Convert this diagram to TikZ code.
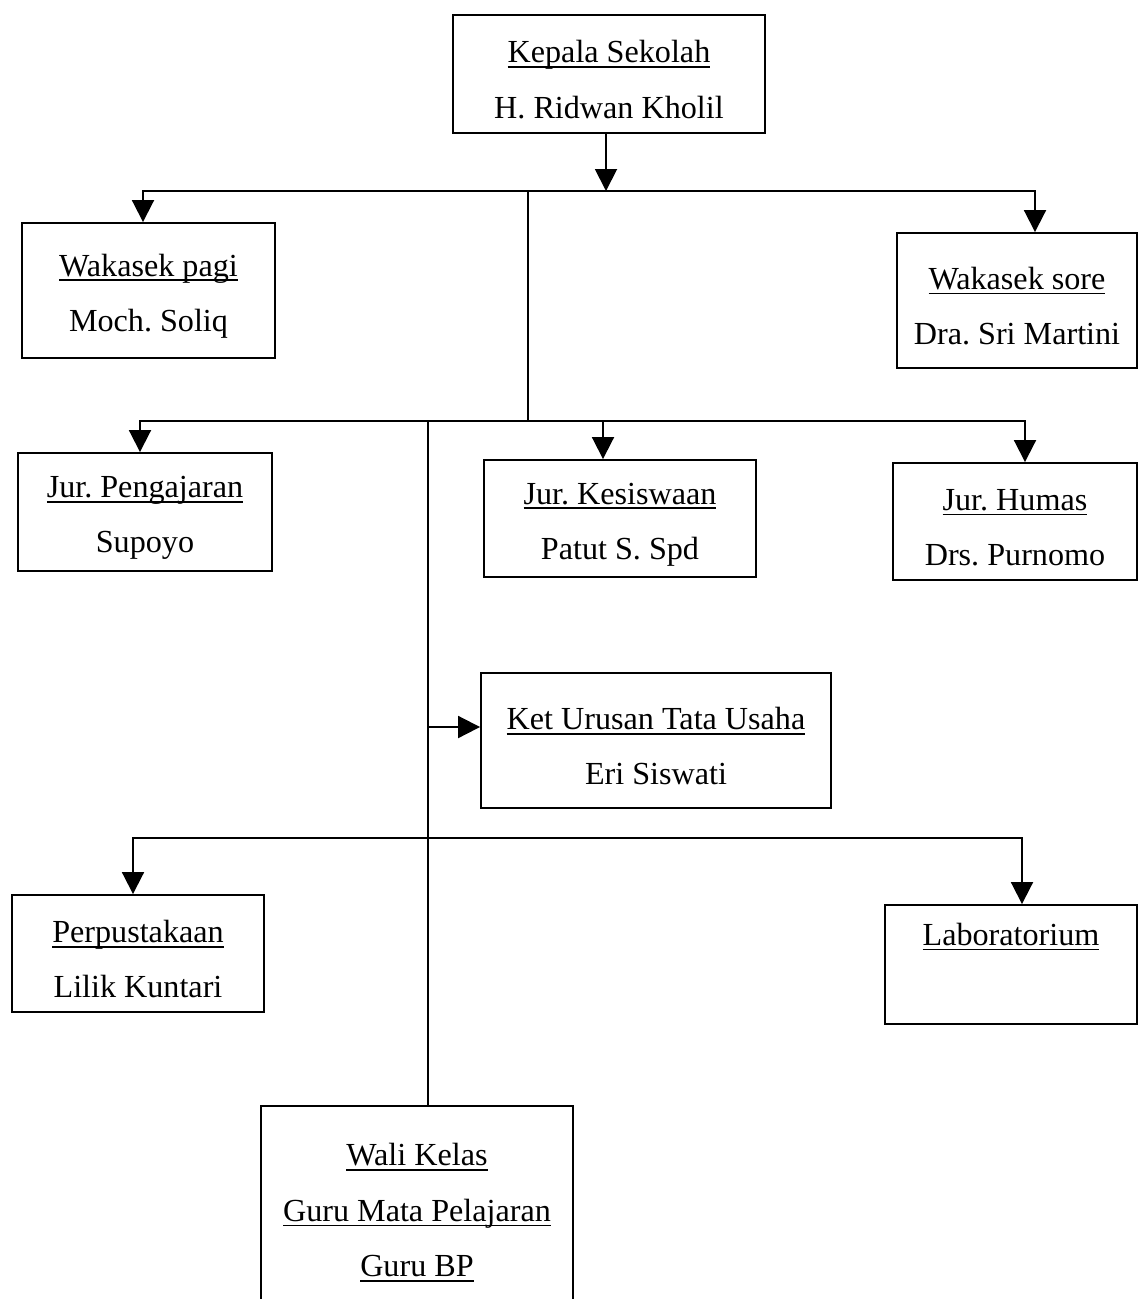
\documentclass[tikz,border=0pt]{standalone}
\usepackage{fontspec}
\setmainfont{Liberation Serif}
\usepackage{tikz}
\usepackage{xcolor}
\usetikzlibrary{arrows.meta}

\newcommand{\garisbawah}[1]{\rule{0pt}{19pt}\setbox0\hbox{#1}\rlap{\rule[-0.16em]{\wd0}{0.055em}}\box0}

\begin{document}
\begin{tikzpicture}[x=0.02cm, y=-0.02cm, line width=1.1pt,
box/.style={draw, align=center, font=\fontsize{18.3}{31.5}\selectfont\frenchspacing},
tip/.style={-{Triangle[width=0.44cm,length=0.44cm]}},
tips/.style={{Triangle[width=0.44cm,length=0.44cm]}-{Triangle[width=0.44cm,length=0.44cm]}}]
\useasboundingbox (0,0) rectangle (1139,1299);

\node[box, minimum width=6.24cm, minimum height=2.36cm] (kepala) at (609,74) {\garisbawah{Kepala Sekolah}\\ H. Ridwan Kholil};
\node[box, minimum width=5.06cm, minimum height=2.7cm] (wakasek pagi) at (148.5,290.5) {\garisbawah{Wakasek pagi}\\ Moch. Soliq};
\node[box, minimum width=4.8cm, minimum height=2.7cm] (wakasek sore) at (1017,300.5) {\garisbawah{Wakasek sore}\\ Dra. Sri Martini};
\node[box, minimum width=5.08cm, minimum height=2.36cm] (pengajaran) at (145,512) {\garisbawah{Jur. Pengajaran}\\ Supoyo};
\node[box, minimum width=5.44cm, minimum height=2.34cm] (kesiswaan) at (620,518.5) {\garisbawah{Jur. Kesiswaan}\\ Patut S. Spd};
\node[box, minimum width=4.88cm, minimum height=2.34cm] (humas) at (1015,521.5) {\garisbawah{Jur. Humas}\\ Drs. Purnomo};
\node[box, minimum width=7cm, minimum height=2.7cm] (tata usaha) at (656,740.5) {\garisbawah{Ket Urusan Tata Usaha}\\ Eri Siswati};
\node[box, minimum width=5.04cm, minimum height=2.34cm] (perpustakaan) at (138,953.5) {\garisbawah{Perpustakaan}\\ Lilik Kuntari};
\node[box, minimum width=5.04cm, minimum height=2.38cm] (laboratorium) at (1011,964.5) {\garisbawah{Laboratorium}\\ \strut};
\node[box, minimum width=6.24cm, minimum height=4.04cm] (wali kelas) at (417,1207) {\garisbawah{Wali Kelas}\\ \garisbawah{Guru Mata Pelajaran}\\ \garisbawah{Guru BP}};

\coordinate (bus top) at (606,191);
\coordinate (bus top west) at (143,191);
\coordinate (bus top east) at (1035,191);
\coordinate (trunk top) at (528,191);
\coordinate (bus mid) at (528,421);
\coordinate (bus mid west) at (140,421);
\coordinate (bus mid east) at (1025,421);
\coordinate (bus mid kes) at (603,421);
\coordinate (trunk low) at (428,421);
\coordinate (tu branch) at (428,727);
\coordinate (bus low west) at (133,838);
\coordinate (bus low east) at (1022,838);

% kepala sekolah and wakasek
\draw[tip] (kepala.south -| bus top) -- (bus top);
\draw[tips] (bus top west |- wakasek pagi.north) -- (bus top west) -- (bus top east) -- (bus top east |- wakasek sore.north);
\draw (trunk top) -- (bus mid);

% jurusan
\draw[tips] (bus mid west |- pengajaran.north) -- (bus mid west) -- (bus mid east) -- (bus mid east |- humas.north);
\draw[tip] (bus mid kes) -- (bus mid kes |- kesiswaan.north);

% tata usaha, perpustakaan, lab, wali kelas
\draw (trunk low) -- (trunk low |- wali kelas.north);
\draw[tip] (tu branch) -- (tu branch -| tata usaha.west);
\draw[tips] (bus low west |- perpustakaan.north) -- (bus low west) -- (bus low east) -- (bus low east |- laboratorium.north);
\end{tikzpicture}
\end{document}
